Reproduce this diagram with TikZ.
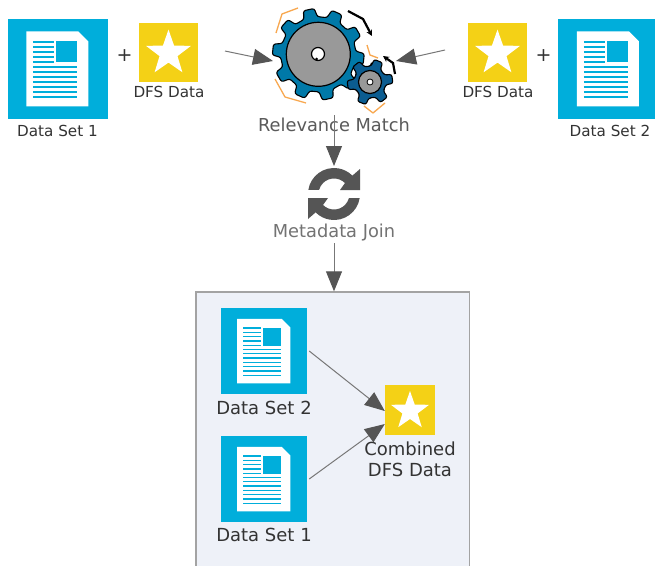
\documentclass[tikz,border=0pt]{standalone}
\usepackage{fontspec}
\setmainfont{DejaVu Sans}
\usetikzlibrary{arrows.meta,shapes.geometric}
\definecolor{iconblue}{HTML}{00AEDB}
\definecolor{iconyellow}{HTML}{F4D116}
\definecolor{boxfill}{HTML}{EEF1F8}
\definecolor{boxline}{HTML}{A3A3A3}
\definecolor{arrowgray}{HTML}{555555}
\definecolor{linegray}{HTML}{777777}
\definecolor{gearblue}{HTML}{0079A8}
\definecolor{geardark}{HTML}{0B5C90}
\definecolor{geargray}{HTML}{999999}
\definecolor{sparkorange}{HTML}{F8A850}
\definecolor{txtdark}{HTML}{333333}
\definecolor{txtgray}{HTML}{5A5A5A}
\tikzset{
  flow/.style={draw=linegray,line width=1pt,-{Triangle[length=20pt,width=16pt,color=arrowgray]}},
  smalllabel/.style={inner sep=0pt,text=txtdark,font=\fontsize{15.2}{17}\selectfont,align=center},
  biglabel/.style={inner sep=0pt,text=txtdark,font=\fontsize{18}{21.5}\selectfont,align=center},
  greylabel/.style={inner sep=0pt,text=txtgray,font=\fontsize{17.8}{21}\selectfont},
  pluslabel/.style={inner sep=0pt,text=txtdark,font=\fontsize{19}{21}\selectfont},
  iconbox/.style={rectangle,inner sep=0pt,fill=iconblue},
  starbox/.style={rectangle,inner sep=0pt,fill=iconyellow},
  startip/.style={star,star points=5,star point ratio=2.5,inner sep=0pt,fill=white},
  spark/.style={draw=sparkorange,line width=1.3pt,line join=round},
  turn/.style={draw=black,line width=2.2pt,-{Stealth[length=6pt,width=6pt]}},
  gearbody/.style={draw=black,line width=1.1pt,rounded corners=2.2pt},
}
\newcommand{\docicon}[4]{%
  \node[iconbox,minimum size=#4pt] (#1) at (#2,#3) {};
  \pgfmathsetmacro{\icnscale}{#4/100}
  \begin{scope}[shift={(#1.north west)},x=\icnscale pt,y=-\icnscale pt]
    \fill[white] (19,13) -- (71,13) -- (81,23) -- (81,88) -- (19,88) -- cycle;
    \fill[iconblue] (49,23) rectangle (70,44);
    \foreach \ly in {23.5,28.5,33.5,38.5,43.5}
      \draw[iconblue,line width=1.5*\icnscale pt] (26,\ly) -- (47,\ly);
    \foreach \ly in {48.5,53.5,58.5,63.5,68.5,73.5,78.5}
      \draw[iconblue,line width=1.5*\icnscale pt] (26,\ly) -- (70,\ly);
  \end{scope}}
\newcommand{\staricon}[4]{%
  \node[starbox,minimum size=#4pt] (#1) at (#2,#3) {};
  \node[startip,minimum size=0.8*#4pt] (#1tip) at (#2,#3+0.02*#4) {};}
\newcommand{\gear}[8]{% cx cy outer root teeth rot fill disk
  \begin{scope}[shift={(#1,#2)}]
    \pgfmathsetmacro{\gp}{360/#5}
    \draw[gearbody,fill=#7]
      ({#6-0.3*\gp}:#4)
      \foreach \i [evaluate=\i as \ga using \i*\gp+#6] in {0,...,\numexpr#5-1\relax} {
        -- ({\ga-0.3*\gp}:#4) -- ({\ga-0.19*\gp}:#3) -- ({\ga+0.19*\gp}:#3) -- ({\ga+0.3*\gp}:#4) -- ({\ga+0.5*\gp}:#4)
      } -- cycle;
    \draw[black,line width=1.2pt,fill=geargray] (0,0) circle (#8);
  \end{scope}}
\begin{document}
\begin{tikzpicture}[x=1pt,y=-1pt]
\clip (0,0) rectangle (655,565);
\fill[white] (0,0) rectangle (655,565);

% lower panel
\node[rectangle,draw=boxline,fill=boxfill,line width=1.4pt,inner sep=0pt,minimum width=273.5pt,minimum height=290pt] (panel) at (332.75,437) {};

% top row icons
\docicon{setA}{57.5}{68.5}{100}
\staricon{dfsA}{168.5}{52}{59}
\docicon{setB}{608}{68.5}{100}
\staricon{dfsB}{497.5}{52}{59}
\node[smalllabel] (setAlabel) at (57.5,131) {Data Set 1};
\node[smalllabel] (dfsAlabel) at (169,92) {DFS Data};
\node[smalllabel] (setBlabel) at (610,131) {Data Set 2};
\node[smalllabel] (dfsBlabel) at (498,92) {DFS Data};
\node[pluslabel] (plusA) at (124.5,56) {+};
\node[pluslabel] (plusB) at (543.5,56) {+};

% orange sparks
\draw[spark] (298,8) -- (282,14) -- (276,33);
\draw[spark] (275,79) -- (285,97) -- (306,103);
\draw[spark] (367,45) -- (370,55) -- (378,58);
\draw[spark] (364,106) -- (373,113) -- (385,103);

% gears
\gear{318.3}{54.3}{46}{37.5}{10}{258}{gearblue}{32}
\draw[black,line width=1.2pt,fill=white] (318,54) circle (6.5);
\fill[black] (316.5,59) circle (1.5);
\gear{370}{82}{23}{16}{6}{292}{geardark}{11.5}
\draw[black,line width=0.8pt,fill=white] (370,82) circle (3);

% rotation arrows
\draw[turn] (348,11) -- (363,19) -- (372,36);
\draw[turn] (395,74) -- (393,63) -- (383,56);

% titles
\node[greylabel] (match) at (334,125) {Relevance Match};
\node[greylabel,text=txtgray!85] (join) at (334,233) {Metadata Join};

% sync icon
\coordinate (sync) at (334,194);
\begin{scope}[shift={(sync)}]
  \foreach \r in {0,180}
    \fill[arrowgray,rotate=\r] (189:26) arc[start angle=189,end angle=315,radius=26]
      -- (26,-25) -- (26,-4) -- (6,-4) -- (315:15.5)
      arc[start angle=315,end angle=195,radius=15.5] -- cycle;
\end{scope}

% lower panel icons
\docicon{innerB}{264}{351}{86}
\docicon{innerA}{264}{479}{86}
\staricon{combined}{410}{410}{50}
\node[biglabel] (innerBlabel) at (264,408) {Data Set 2};
\node[biglabel] (innerAlabel) at (264,535) {Data Set 1};
\node[biglabel] (combinedlabel) at (410,459.5) {Combined\\DFS Data};

% connector ends
\coordinate (leftfrom) at (225,51);
\coordinate (lefttip) at (273,61);
\coordinate (rightfrom) at (445,50);
\coordinate (righttip) at (396,61);
\coordinate (matchfrom) at (334,115);
\coordinate (synctop) at (334,166);
\coordinate (joinfrom) at (334,243);
\coordinate (paneltop) at (panel.north -| joinfrom);
\coordinate (bfrom) at ([xshift=2pt]innerB.east);
\coordinate (afrom) at ([xshift=2pt]innerA.east);
\coordinate (btip) at ([yshift=-1pt]combined.west);
\coordinate (atip) at ([yshift=-14pt]combined.west);

\draw[flow] (leftfrom) -- (lefttip);
\draw[flow] (rightfrom) -- (righttip);
\draw[flow] (matchfrom) -- (synctop);
\draw[flow] (joinfrom) -- (paneltop);
\draw[flow] (bfrom) -- (btip);
\draw[flow] (afrom) -- (atip);
\end{tikzpicture}
\end{document}
